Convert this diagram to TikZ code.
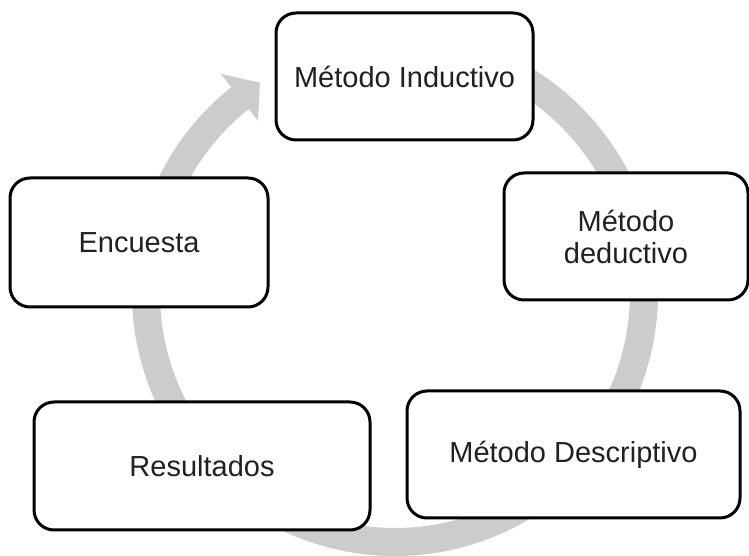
\documentclass[tikz,border=0pt]{standalone}
\usepackage{fontspec}
\setmainfont{Liberation Sans}
\usetikzlibrary{calc}
\definecolor{ringgray}{RGB}{204,204,204}
\definecolor{textgray}{RGB}{33,33,33}
\begin{document}
\begin{tikzpicture}[x=1pt,y=1pt,
    box/.style={draw=black,line width=3pt,rounded corners=20pt,fill=white,
      text=textgray,font=\fontsize{29}{32}\selectfont,align=center}]
  \useasboundingbox (0,0) rectangle (749,556);
  \coordinate (c) at (395,263);
  % cycle arrow behind the boxes
  \fill[ringgray]
    ($(c)+(75:263)$) arc[start angle=75,end angle=-231.5,radius=263]
    -- ($(c)+(-231.5:280)$) -- ($(c)+(-237.3:250)$) -- ($(c)+(-231.5:220)$)
    -- ($(c)+(-231.5:235)$) arc[start angle=-231.5,end angle=75,radius=235]
    -- cycle;
  \node[box,minimum width=257pt,minimum height=127pt] (inductivo) at (404.5,479.5) {Método Inductivo};
  \node[box,minimum width=244pt,minimum height=127pt] (deductivo) at (626,319.5) {Método\\deductivo};
  \node[box,minimum width=333pt,minimum height=127pt] (descriptivo) at (573.5,101.5) {Método Descriptivo};
  \node[box,minimum width=336pt,minimum height=128pt] (resultados) at (202,90) {Resultados};
  \node[box,minimum width=258pt,minimum height=129pt] (encuesta) at (139,313.5) {Encuesta};
\end{tikzpicture}
\end{document}
